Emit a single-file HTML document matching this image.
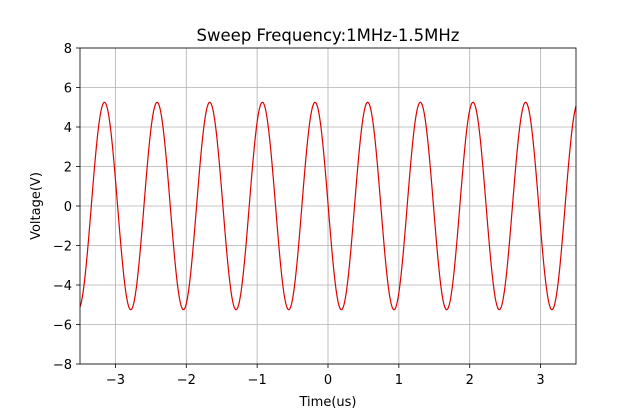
<!DOCTYPE html>
<html><head><meta charset="utf-8"><style>
html,body{margin:0;padding:0;background:#fff;}
svg{display:block;font-family:"DejaVu Sans","Liberation Sans",sans-serif;}
</style></head><body>
<svg id="s" width="640" height="409" viewBox="0 0 640 409" xmlns="http://www.w3.org/2000/svg">
<rect width="640" height="409" fill="#fff"/>
<g id="grid" stroke="#b0b0b0" stroke-width="0.8"></g>
<path id="curve" fill="none" stroke="#e00000" stroke-width="1.2"/>
<rect x="80" y="48" width="496" height="316" fill="none" stroke="#000" stroke-width="0.8"/>
<g id="ticks" stroke="#000" stroke-width="0.8"></g>
<g id="labels" font-size="13" fill="#000"></g>
<text x="328" y="41" font-size="16.5" text-anchor="middle">Sweep Frequency:1MHz-1.5MHz</text>
<text x="328" y="406" font-size="13" text-anchor="middle">Time(us)</text>
<text transform="translate(40,206) rotate(-90)" font-size="13" text-anchor="middle">Voltage(V)</text>
</svg>
<script>
var NS="http://www.w3.org/2000/svg";
function X(v){return 328+v*496/7;}
function Y(v){return 206-v*316/16;}
function el(t,a,p){var e=document.createElementNS(NS,t);for(var k in a)e.setAttribute(k,a[k]);document.getElementById(p).appendChild(e);return e;}
for(var i=-3;i<=3;i++){var x=X(i);el('line',{x1:x,y1:48,x2:x,y2:364},'grid');el('line',{x1:x,y1:364,x2:x,y2:368},'ticks');
var t=el('text',{x:x,y:384,'text-anchor':'middle'},'labels');t.textContent=(i<0?'\u2212'+(-i):i);}
for(var j=-8;j<=8;j+=2){var y=Y(j);el('line',{x1:80,y1:y,x2:576,y2:y},'grid');el('line',{x1:76,y1:y,x2:80,y2:y},'ticks');
var t=el('text',{x:72,y:y+5,'text-anchor':'end'},'labels');t.textContent=(j<0?'\u2212'+(-j):j);}
var d='';for(var k=0;k<=1200;k++){var xv=-3.5+7*k/1200;var yv=5.25*Math.cos(2*Math.PI*(xv-0.56)/0.743);
d+=(k?'L':'M')+X(xv).toFixed(2)+' '+Y(yv).toFixed(2);}
document.getElementById('curve').setAttribute('d',d);
</script>
</body></html>
